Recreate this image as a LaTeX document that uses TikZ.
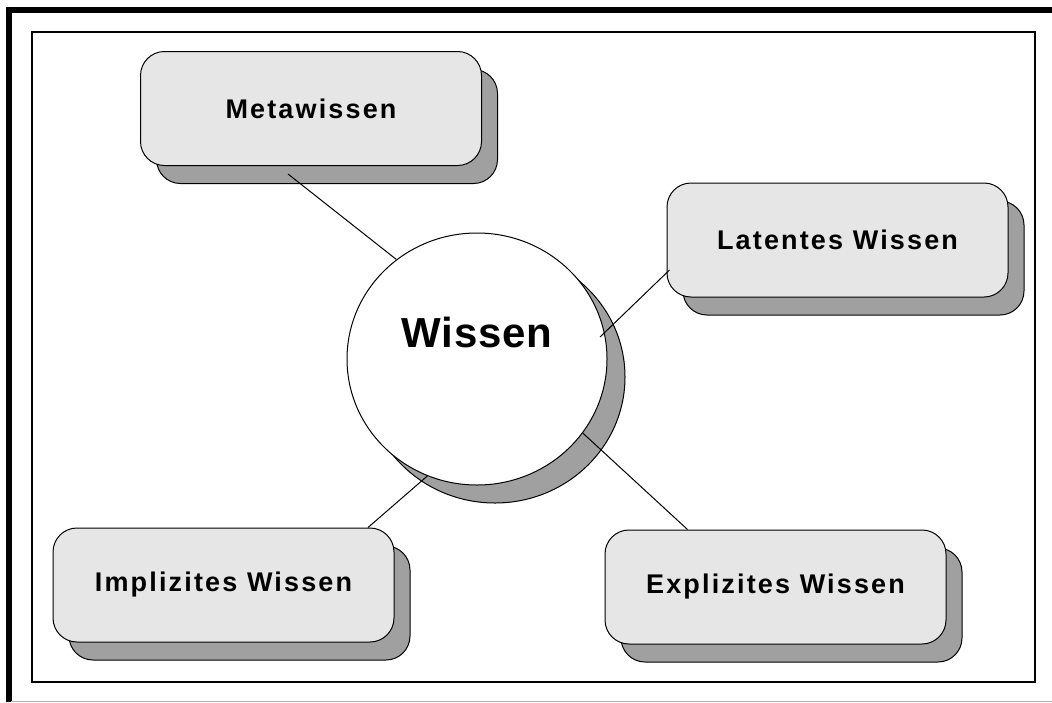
\documentclass[tikz,border=0pt]{standalone}
\usepackage{fontspec}
\setmainfont{Liberation Sans}
\newfontfamily\boxfont[LetterSpace=8]{Liberation Sans}
\newfontfamily\hubfont[LetterSpace=2]{Liberation Sans}
\definecolor{boxgray}{RGB}{230,230,230}
\definecolor{shadegray}{RGB}{160,160,160}
\usepackage{tikz}
\usetikzlibrary{shadows, shapes.geometric, calc}

\begin{document}
\begin{tikzpicture}[
  x=1pt, y=-1pt,
  kbox/.style={rectangle, rounded corners=24pt, draw=black, line width=1pt, fill=boxgray, minimum width=341pt, minimum height=114pt, inner sep=0pt, font=\boxfont\fontsize{27}{32}\selectfont\bfseries,
    drop shadow={shadow xshift=16pt, shadow yshift=-18pt, fill=shadegray, draw=black, line width=1pt, opacity=1}},
  hub/.style={ellipse, draw=black, line width=1pt, fill=white, minimum width=260pt, minimum height=252pt, inner sep=0pt, text height=30pt, text depth=54pt, font=\hubfont\fontsize{42}{48}\selectfont\bfseries,
    drop shadow={shadow xshift=18pt, shadow yshift=-18pt, fill=shadegray, draw=black, line width=1pt, opacity=1}},
  link/.style={line width=1pt, black}
]
  \useasboundingbox (0,0) rectangle (1052,702);
  % frames
  \draw[line width=6pt] (8.5,702) -- (8.5,10) -- (1052,10);
  \draw[line width=1pt, black!30] (11,701) -- (1052,701);
  \draw[line width=1.5pt] (32,32) rectangle (1035,682);

  \node[hub] (wissen) at (477,359) {Wissen};
  \node[kbox] (meta) at (311,108.5) {Metawissen};
  \node[kbox] (latent) at (837.5,240) {Latentes Wissen};
  \node[kbox] (implicit) at (223.5,585) {Implizites Wissen};
  \node[kbox] (explicit) at (775.5,587) {Explizites Wissen};

  \coordinate (metafoot) at ($(meta.south)+(-23,8)$);
  \coordinate (latfoot) at (600,337);

  \draw[link] (metafoot) -- (wissen.129.6);
  \draw[link] (latfoot) -- ($(latent.west)+(3,30)$);
  \draw[link] (wissen.-35.9) -- ($(explicit.north)+(-88,0)$);
  \draw[link] (wissen.-113) -- ($(implicit.north)+(144.5,0)$);
\end{tikzpicture}
\end{document}
